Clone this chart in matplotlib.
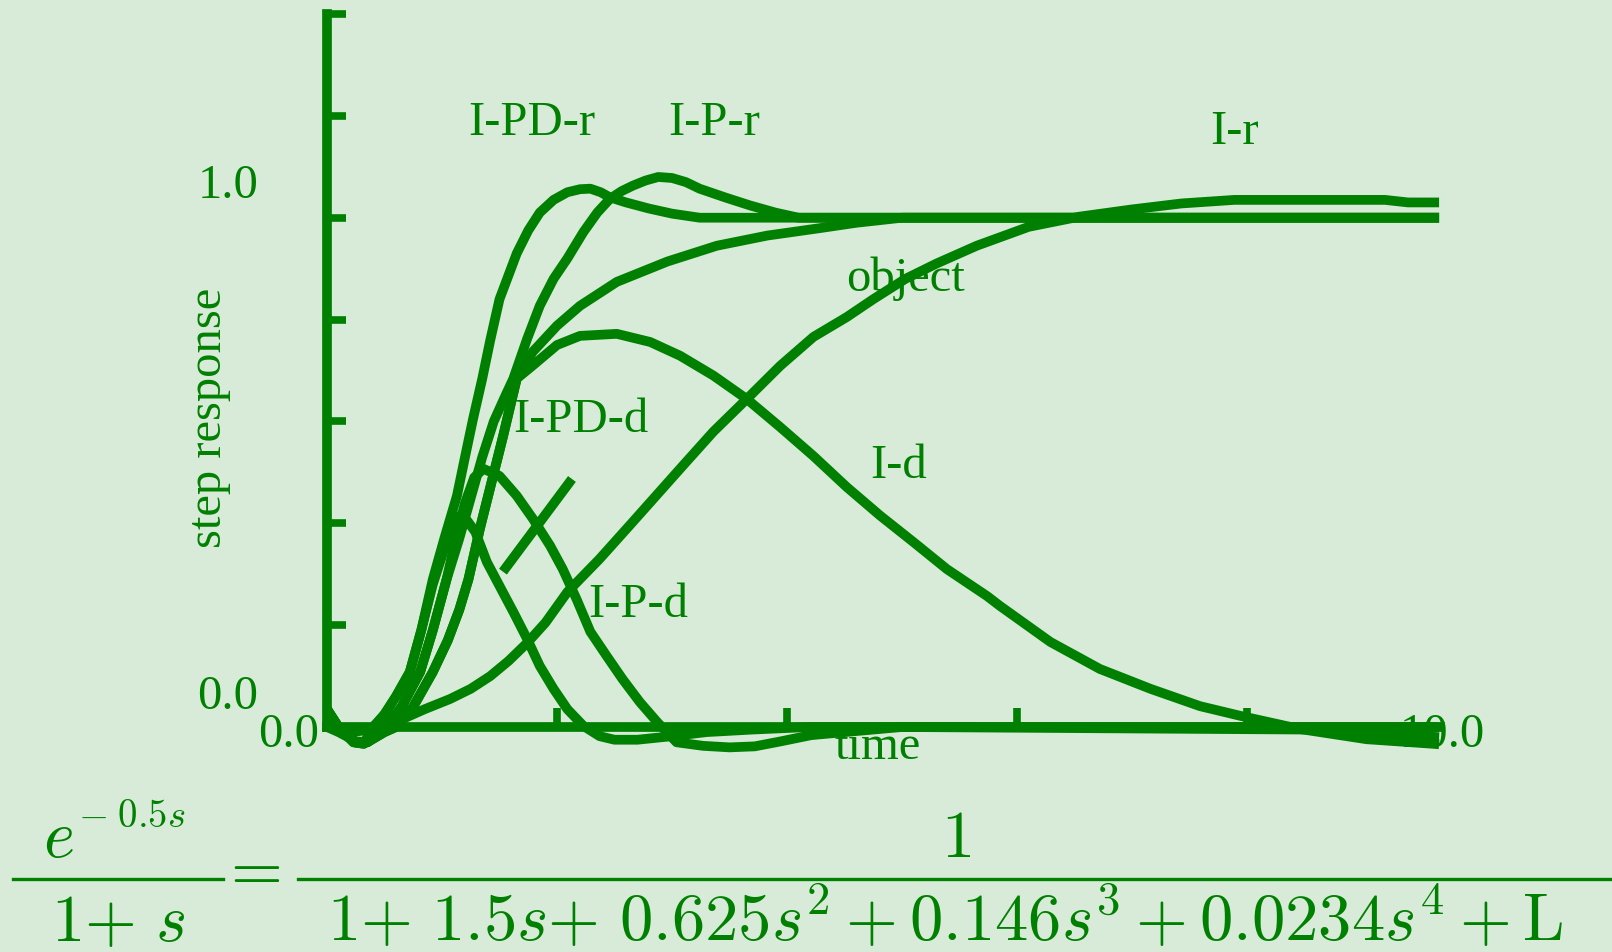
import numpy as np
import matplotlib
matplotlib.use("Agg")
import matplotlib.pyplot as plt

#colours and fonts
bgColour = "#d8ebd8"
lineColour = "#008000"
plt.rcParams["font.family"] = ["Liberation Serif", "DejaVu Serif"]
plt.rcParams["mathtext.fontset"] = "cm"

#step responses (time, response)
tPDr = [0, 0.1, 0.23, 0.32, 0.4, 0.5, 0.6, 0.72, 0.82, 0.92, 1.02, 1.13, 1.2, 1.27, 1.35, 1.42, 1.5, 1.65, 1.75,
        1.85, 1.97, 2.09, 2.2, 2.29, 2.38, 2.46, 2.6, 2.8, 3.0, 3.24, 3.5, 9.67]
yPDr = [0.035, 0.0, -0.03, -0.033, 0.0, 0.025, 0.06, 0.108, 0.19, 0.29, 0.37, 0.454, 0.53, 0.605, 0.684, 0.76, 0.84,
        0.93, 0.975, 1.01, 1.035, 1.05, 1.056, 1.057, 1.05, 1.04, 1.03, 1.018, 1.008, 1.0, 1.0, 1.0]

tPr = [0, 0.1, 0.25, 0.35, 0.45, 0.55, 0.65, 0.81, 0.92, 1.04, 1.15, 1.25, 1.35, 1.45, 1.54, 1.62, 1.74, 1.85, 1.97,
       2.09, 2.23, 2.35, 2.46, 2.56, 2.66, 2.77, 2.88, 3.0, 3.12, 3.24, 3.46, 3.68, 3.9, 4.1, 9.67]
yPr = [0.02, -0.005, -0.03, -0.03, -0.01, 0.01, 0.04, 0.108, 0.19, 0.29, 0.37, 0.45, 0.53, 0.6, 0.645, 0.684, 0.762,
       0.827, 0.88, 0.92, 0.972, 1.01, 1.037, 1.052, 1.063, 1.073, 1.08, 1.078, 1.07, 1.057, 1.04, 1.024, 1.01, 1.0, 1.0]

tIr = [0, 0.1, 0.25, 0.35, 0.5, 0.6, 0.75, 0.92, 1.05, 1.15, 1.23, 1.33, 1.43, 1.53, 1.65, 1.79, 2.0, 2.2, 2.52, 2.96,
       3.39, 3.83, 4.05, 4.3, 4.6, 5.0, 9.67]
yIr = [0.0, -0.01, -0.028, -0.03, -0.01, 0.0, 0.04, 0.108, 0.17, 0.23, 0.29, 0.39, 0.48, 0.57, 0.684, 0.737, 0.788,
       0.827, 0.874, 0.914, 0.945, 0.965, 0.972, 0.98, 0.99, 1.0, 1.0]

tId = [0, 0.1, 0.25, 0.35, 0.5, 0.6, 0.75, 0.92, 1.05, 1.15, 1.23, 1.33, 1.43, 1.53, 1.65, 1.79, 2.0, 2.2, 2.52, 2.81,
       3.07, 3.36, 3.65, 3.94, 4.23, 4.52, 4.81, 5.1, 5.39, 5.74, 5.85, 6.29, 6.72, 7.16, 7.59, 7.94, 8.46, 9.04,
       9.62, 9.67]
yId = [0.035, 0.0, -0.03, -0.03, -0.01, 0.0, 0.04, 0.108, 0.17, 0.23, 0.29, 0.39, 0.48, 0.57, 0.684, 0.71, 0.75,
       0.768, 0.772, 0.756, 0.729, 0.69, 0.644, 0.589, 0.532, 0.471, 0.415, 0.363, 0.31, 0.257, 0.238, 0.167, 0.114,
       0.075, 0.041, 0.022, -0.004, -0.024, -0.033, -0.034]

tPDd = [0, 0.1, 0.23, 0.32, 0.4, 0.5, 0.6, 0.72, 0.82, 0.92, 1.02, 1.1, 1.157, 1.22, 1.29, 1.39, 1.5, 1.62, 1.74,
        1.85, 1.97, 2.09, 2.23, 2.37, 2.5, 2.7, 3.0, 3.3, 3.7, 4.2, 9.67]
yPDd = [0.035, 0.0, -0.03, -0.033, -0.004, 0.025, 0.06, 0.108, 0.19, 0.28, 0.35, 0.395, 0.415, 0.405, 0.383, 0.324,
        0.277, 0.226, 0.173, 0.12, 0.075, 0.035, 0.002, -0.018, -0.025, -0.025, -0.018, -0.01, -0.005, 0.0, 0.0]

tPd = [0, 0.1, 0.25, 0.35, 0.45, 0.55, 0.65, 0.81, 0.92, 1.04, 1.12, 1.2, 1.28, 1.36, 1.5, 1.65, 1.79, 1.94, 2.05,
       2.17, 2.29, 2.43, 2.57, 2.72, 2.87, 3.04, 3.27, 3.5, 3.72, 3.95, 4.21, 4.6, 5.0, 8.5, 9.67]
yPd = [0.02, -0.005, -0.03, -0.03, -0.01, 0.01, 0.04, 0.108, 0.19, 0.29, 0.37, 0.44, 0.49, 0.507, 0.493, 0.454,
       0.409, 0.356, 0.31, 0.251, 0.187, 0.14, 0.094, 0.049, 0.01, -0.03, -0.037, -0.04, -0.038, -0.028, -0.016,
       -0.008, 0.0, -0.005, -0.02]

tObj = [0, 0.2, 0.4, 0.55, 0.7, 0.85, 1.07, 1.25, 1.42, 1.58, 1.74, 1.9, 2.09, 2.37, 2.66, 3.07, 3.36, 3.65, 3.94,
        4.23, 4.52, 4.75, 5.03, 5.3, 5.65, 6.1, 6.54, 6.99, 7.43, 7.89, 8.5, 9.2, 9.4, 9.67]
yObj = [0.0, -0.01, -0.005, 0.005, 0.02, 0.035, 0.055, 0.075, 0.1, 0.13, 0.165, 0.205, 0.265, 0.33, 0.403, 0.507,
        0.58, 0.644, 0.709, 0.766, 0.805, 0.84, 0.88, 0.91, 0.945, 0.982, 1.002, 1.016, 1.028, 1.035, 1.035, 1.035,
        1.03, 1.03]

#stray straight piece in the middle of the plot
tStray = [1.53, 2.13]
yStray = [0.305, 0.487]

curves = [(tPDr, yPDr), (tPr, yPr), (tIr, yIr), (tId, yId), (tPDd, yPDd), (tPd, yPd), (tObj, yObj),
          (tStray, yStray)]

#curve labels: text, time, response
labelText = ["I-PD-r", "I-P-r", "I-r", "object", "I-PD-d", "I-d", "I-P-d"]
labelT = [1.78, 3.37, 7.89, 5.03, 2.21, 4.97, 2.71]
labelY = [1.165, 1.165, 1.147, 0.859, 0.582, 0.491, 0.218]

yTicks = [0.2, 0.4, 0.6, 0.8, 1.0, 1.2, 1.4]
xTicks = [2, 4, 6, 8]

W, H = 1612, 953
fig = plt.figure(figsize=(W / 100, H / 100), dpi=100)
fig.patch.set_facecolor(bgColour)

#axes box placed so the corner sits where the reference draws it
ax = fig.add_axes([327 / W, (H - 728) / H, (1440 - 327) / W, (728 - 15) / H])
ax.set_facecolor(bgColour)
ax.set_xlim(0, 9.678)
ax.set_ylim(0, 1.4)

for t, y in curves:
    ax.plot(t, y, color=lineColour, linewidth=7, clip_on=False, solid_capstyle="butt", solid_joinstyle="round")

#axes lines and ticks
for side in ["top", "right"]:
    ax.spines[side].set_visible(False)
for side in ["left", "bottom"]:
    ax.spines[side].set_linewidth(7)
    ax.spines[side].set_color(lineColour)
    ax.spines[side].set_capstyle("projecting")
ax.set_xticks(xTicks)
ax.set_yticks(yTicks)
ax.tick_params(direction="in", length=14, width=5.5, color=lineColour, labelleft=False, labelbottom=False)

fs = 35
for txt, t, y in zip(labelText, labelT, labelY):
    ax.text(t, y, txt, color=lineColour, fontsize=fs, ha="center", va="baseline")

#tick numbers and axis names, where the reference puts them
ax.text(-0.86, 1.041, "1.0", color=lineColour, fontsize=fs, ha="center", va="baseline", clip_on=False)
ax.text(-0.86, 0.037, "0.0", color=lineColour, fontsize=fs, ha="center", va="baseline", clip_on=False)
ax.text(-0.33, -0.037, "0.0", color=lineColour, fontsize=fs, ha="center", va="baseline", clip_on=False)
ax.text(9.70, -0.037, "10.0", color=lineColour, fontsize=fs, ha="center", va="baseline", clip_on=False)
ax.text(4.79, -0.061, "time", color=lineColour, fontsize=fs, ha="center", va="baseline", clip_on=False)
ax.text(-1.03, 0.609, "step response", color=lineColour, fontsize=fs, ha="center", va="center",
        rotation=90, clip_on=False)

#transfer function underneath
def px(x, y):
    return x / W, 1 - y / H

eqs = 48
fig.add_artist(plt.Line2D([13 / W, 223 / W], [1 - 880 / H] * 2, transform=fig.transFigure, color=lineColour,
                          linewidth=2.4))
fig.add_artist(plt.Line2D([298 / W, 1.0], [1 - 880 / H] * 2, transform=fig.transFigure, color=lineColour,
                          linewidth=2.4))
fig.text(*px(43, 857), r"$e$", color=lineColour, fontsize=eqs, ha="left", va="baseline")
fig.text(*px(78, 827), r"$-\;0.5s$", color=lineColour, fontsize=28, ha="left", va="baseline")
fig.text(*px(250, 873), r"$=$", color=lineColour, fontsize=eqs, ha="center", va="center")
fig.text(*px(956, 857), r"$1$", color=lineColour, fontsize=eqs, ha="center", va="baseline")
fig.text(*px(51, 941), r"$1{+}\ s$", color=lineColour, fontsize=eqs, ha="left", va="baseline")
fig.text(*px(327, 941), r"$1{+}\ 1.5s{+}\ 0.625s^2+0.146s^3+0.0234s^4+\mathrm{L}$", color=lineColour,
         fontsize=eqs, ha="left", va="baseline")

fig.savefig("out.png", dpi=100, facecolor=bgColour)
